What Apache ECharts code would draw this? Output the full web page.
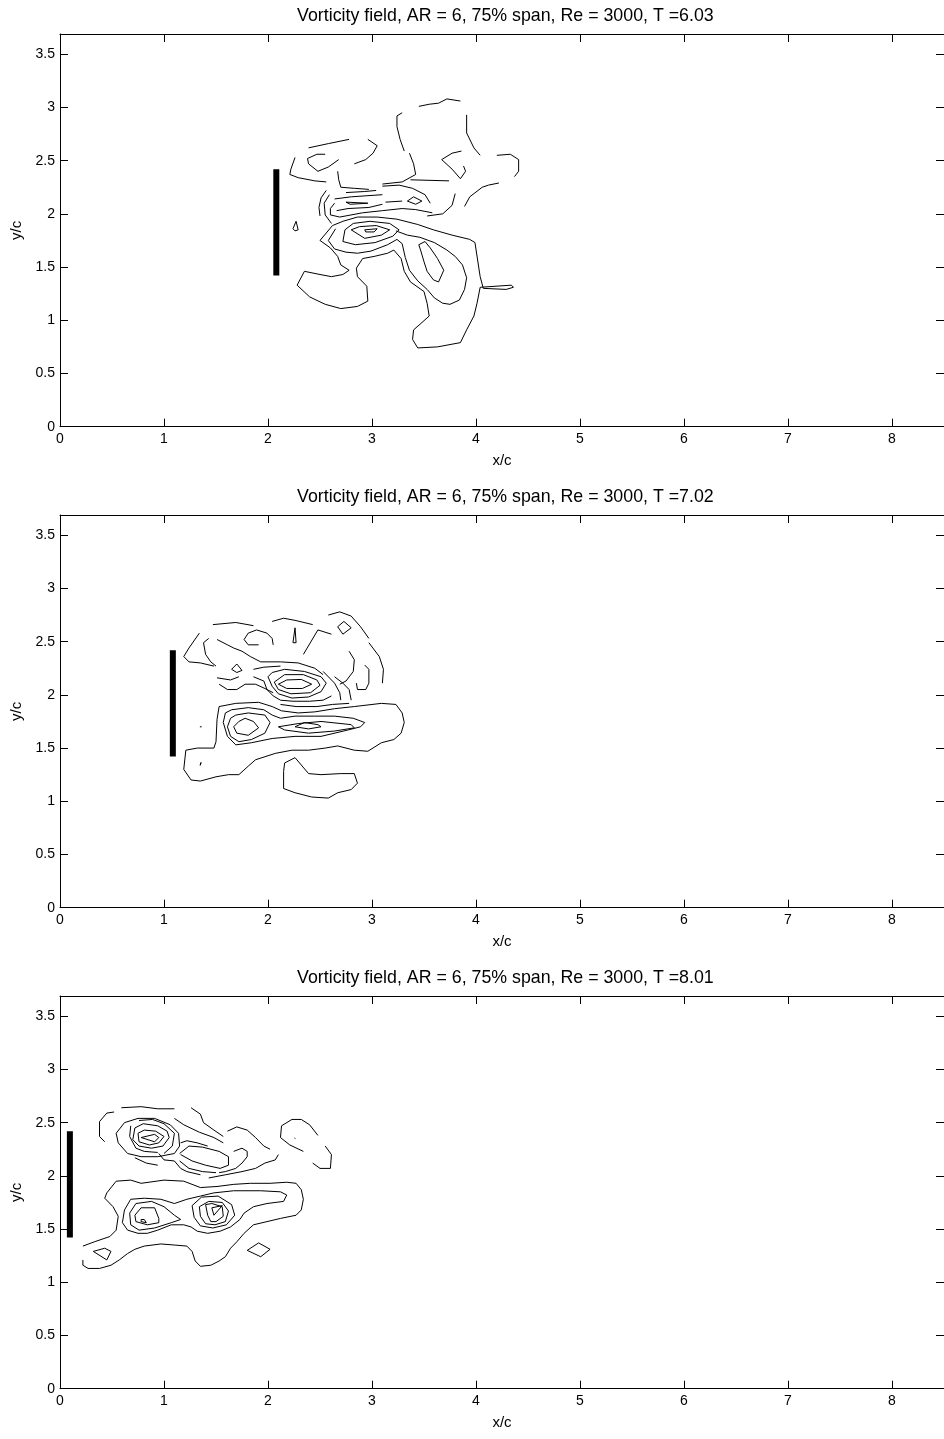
<!DOCTYPE html>
<html>
<head>
<meta charset="utf-8">
<script src="https://cdn.jsdelivr.net/npm/echarts@6/dist/echarts.min.js"></script>
<style>
html,body{margin:0;padding:0;background:#fff;}
#chart{width:944px;height:1439px;}
</style>
</head>
<body>
<div id="chart"></div>
<script>
// ---------- data (chord units) ----------
const titles = [
  "Vorticity field, AR = 6, 75% span, Re = 3000, T =6.03",
  "Vorticity field, AR = 6, 75% span, Re = 3000, T =7.02",
  "Vorticity field, AR = 6, 75% span, Re = 3000, T =8.01"
];
const xTicks = [0,1,2,3,4,5,6,7,8];
const yTicks = [0,0.5,1,1.5,2,2.5,3,3.5];
const plateX = [2.08, 1.085, 0.095];
const plateY = [1.42, 2.42];

// panel 1 contour polylines (x/c, y/c)
const contours1 = [
  [[3.45,3.01],[3.55,3.03],[3.64,3.04],[3.72,3.08],[3.85,3.06]],
  [[3.29,2.95],[3.24,2.92],[3.24,2.82],[3.27,2.70],[3.31,2.59]],
  [[3.91,2.93],[3.91,2.76],[3.98,2.62],[4.04,2.55]],
  [[2.39,2.62],[2.58,2.66],[2.78,2.70]],
  [[2.96,2.70],[3.05,2.64],[3.01,2.57],[2.94,2.51],[2.83,2.47]],
  [[2.55,2.56],[2.47,2.56],[2.38,2.52],[2.39,2.47],[2.48,2.40],[2.58,2.44],[2.68,2.51]],
  [[2.26,2.53],[2.22,2.42],[2.21,2.37],[2.29,2.34],[2.45,2.31],[2.56,2.30]],
  [[2.67,2.40],[2.68,2.32],[2.70,2.25],[2.83,2.24],[2.97,2.23]],
  [[3.36,2.57],[3.40,2.47],[3.42,2.37],[3.29,2.30],[3.10,2.28]],
  [[3.37,2.32],[3.74,2.31]],
  [[3.88,2.45],[3.90,2.40],[3.85,2.33],[3.77,2.42],[3.67,2.51],[3.77,2.57],[3.86,2.59]],
  [[4.20,2.55],[4.33,2.56],[4.41,2.51],[4.41,2.40],[4.37,2.35]],
  [[3.89,2.07],[3.94,2.16],[4.06,2.25],[4.12,2.27],[4.22,2.29]],
  [[2.56,2.22],[2.51,2.15],[2.49,2.06],[2.50,1.98]],
  [[2.59,2.18],[2.54,2.10],[2.55,1.99],[2.61,1.91]],
  [[2.64,2.10],[2.60,2.05],[2.60,1.99],[2.69,1.97],[2.91,2.01],[3.10,2.03],[3.29,2.05],[3.42,2.04],[3.58,2.01]],
  [[2.75,2.20],[2.93,2.21],[3.04,2.22]],
  [[2.64,2.14],[2.80,2.16],[3.10,2.18]],
  [[2.75,2.11],[2.96,2.10],[2.79,2.09],[2.75,2.11]],
  [[2.66,2.03],[2.77,2.05],[2.97,2.06],[3.10,2.09]],
  [[3.10,2.26],[3.26,2.27],[3.39,2.24],[3.51,2.18],[3.56,2.10]],
  [[3.13,2.11],[3.29,2.12]],
  [[3.34,2.12],[3.40,2.16],[3.48,2.12],[3.42,2.09],[3.34,2.12]],
  [[3.53,1.98],[3.68,2.00],[3.77,2.08],[3.80,2.19]],
  [[2.27,1.93],[2.24,1.86],[2.26,1.84],[2.29,1.85],[2.27,1.93]],
  [[2.93,1.85],[3.05,1.86],[3.02,1.83],[2.94,1.83],[2.93,1.85]],
  [[2.80,1.85],[2.93,1.77],[3.09,1.80],[3.17,1.85],[3.04,1.89],[2.88,1.88],[2.80,1.85]],
  [[2.74,1.85],[2.72,1.74],[2.84,1.71],[3.03,1.73],[3.20,1.79],[3.26,1.85],[3.17,1.91],[2.98,1.93],[2.82,1.91],[2.74,1.85]],
  [[2.65,1.86],[2.58,1.75],[2.64,1.67],[2.75,1.64],[2.86,1.63],[2.99,1.65],[3.15,1.71],[3.24,1.76],[3.29,1.72],[3.32,1.59],[3.36,1.47],[3.44,1.37],[3.53,1.29],[3.60,1.21],[3.68,1.16],[3.75,1.15],[3.84,1.19],[3.89,1.29],[3.91,1.40],[3.87,1.52],[3.80,1.60],[3.72,1.66],[3.60,1.73],[3.46,1.78],[3.34,1.80],[3.23,1.84]],
  [[3.45,1.71],[3.51,1.74],[3.56,1.68],[3.63,1.58],[3.69,1.47],[3.64,1.36],[3.59,1.38],[3.53,1.46],[3.50,1.55],[3.47,1.65],[3.45,1.71]],
  [[2.62,1.89],[2.50,1.75],[2.60,1.68],[2.67,1.60],[2.70,1.52],[2.78,1.47],[2.72,1.43],[2.61,1.41],[2.50,1.43],[2.35,1.46],[2.28,1.33],[2.40,1.22],[2.55,1.15],[2.70,1.11],[2.86,1.13],[2.96,1.18],[2.95,1.32],[2.86,1.41],[2.85,1.49],[2.91,1.58],[3.02,1.60],[3.15,1.63],[3.21,1.66],[3.28,1.58],[3.31,1.46],[3.37,1.36],[3.50,1.27],[3.53,1.16],[3.55,1.04],[3.47,0.97],[3.40,0.91],[3.39,0.82],[3.44,0.74],[3.63,0.75],[3.85,0.79],[3.91,0.91],[3.98,1.04],[4.01,1.16],[4.04,1.31],[4.34,1.33],[4.36,1.31],[4.29,1.29],[4.07,1.30],[4.04,1.41],[3.99,1.73],[3.94,1.76],[3.77,1.80],[3.59,1.85],[3.44,1.90],[3.24,1.95],[3.05,1.97],[2.86,1.97],[2.72,1.93],[2.62,1.89]]
];

// panel 2 contour polylines
const contours2 = [
  [[2.58,2.75],[2.69,2.78],[2.80,2.74],[2.89,2.64],[2.97,2.53]],
  [[2.67,2.64],[2.73,2.69],[2.80,2.63],[2.72,2.57],[2.67,2.64]],
  [[2.04,2.69],[2.15,2.72],[2.26,2.70],[2.43,2.66]],
  [[1.47,2.66],[1.69,2.68],[1.86,2.65]],
  [[2.05,2.47],[2.04,2.53],[1.99,2.58],[1.89,2.61],[1.81,2.58],[1.77,2.52],[1.81,2.47],[1.91,2.47]],
  [[2.26,2.63],[2.24,2.49],[2.27,2.49],[2.26,2.63]],
  [[2.34,2.38],[2.48,2.61],[2.61,2.57]],
  [[2.97,2.49],[3.07,2.36],[3.11,2.24],[3.10,2.11]],
  [[2.78,2.41],[2.83,2.33],[2.82,2.22],[2.75,2.13],[2.69,2.10]],
  [[2.93,2.28],[2.97,2.24],[2.97,2.11],[2.94,2.05],[2.86,2.05],[2.85,2.11]],
  [[1.34,2.58],[1.24,2.44],[1.19,2.36],[1.24,2.31],[1.35,2.30],[1.48,2.27]],
  [[1.43,2.53],[1.38,2.49],[1.40,2.38],[1.45,2.31],[1.50,2.27]],
  [[1.51,2.52],[1.61,2.47],[1.67,2.44],[1.75,2.41],[1.83,2.36],[1.93,2.31],[2.02,2.31],[2.12,2.31],[2.29,2.30],[2.45,2.25],[2.53,2.19]],
  [[1.65,2.24],[1.70,2.29],[1.75,2.23],[1.70,2.21],[1.65,2.24]],
  [[1.51,2.16],[1.64,2.14],[1.72,2.17]],
  [[1.53,2.10],[1.61,2.05],[1.70,2.05],[1.78,2.10],[1.88,2.10],[1.97,2.06],[2.05,2.02]],
  [[1.86,2.24],[1.96,2.26],[2.12,2.27]],
  [[2.00,2.17],[2.04,2.21],[2.16,2.24],[2.35,2.22],[2.51,2.17],[2.56,2.11],[2.51,2.03],[2.39,1.98],[2.23,1.97],[2.10,2.01],[2.04,2.08],[2.00,2.17]],
  [[2.06,2.12],[2.16,2.19],[2.34,2.19],[2.47,2.14],[2.50,2.09],[2.41,2.02],[2.22,2.01],[2.10,2.05],[2.06,2.12]],
  [[2.10,2.10],[2.18,2.14],[2.32,2.145],[2.42,2.10],[2.33,2.06],[2.18,2.06],[2.10,2.10]],
  [[1.86,2.17],[1.96,2.13],[1.99,2.05],[2.05,1.99],[2.12,1.95],[2.24,1.94],[2.40,1.94],[2.53,1.95],[2.61,1.99]],
  [[2.12,1.91],[2.27,1.89],[2.47,1.89],[2.62,1.91],[2.78,1.92]],
  [[2.64,2.17],[2.72,2.11],[2.78,2.05],[2.80,1.95]],
  [[2.53,2.22],[2.64,2.11],[2.69,2.02],[2.70,1.95]],
  [[1.53,1.89],[1.69,1.92],[1.91,1.93],[2.04,1.89],[2.13,1.85],[2.29,1.83],[2.45,1.84],[2.64,1.87],[2.83,1.89],[3.09,1.92],[3.23,1.91],[3.29,1.83],[3.31,1.74],[3.28,1.64],[3.21,1.58],[3.09,1.55],[2.96,1.47],[2.83,1.48],[2.67,1.52],[2.55,1.50],[2.39,1.48],[2.23,1.48],[2.07,1.45],[1.88,1.39],[1.81,1.33],[1.72,1.25],[1.62,1.25],[1.50,1.23],[1.35,1.19],[1.26,1.20],[1.19,1.30],[1.21,1.48],[1.32,1.50],[1.48,1.50],[1.50,1.56],[1.51,1.77],[1.53,1.89]],
  [[1.59,1.83],[1.57,1.74],[1.61,1.61],[1.69,1.53],[1.84,1.55],[2.04,1.59],[2.26,1.61],[2.51,1.61],[2.77,1.67],[2.89,1.70],[2.93,1.74],[2.82,1.78],[2.64,1.80],[2.45,1.80],[2.26,1.80],[2.12,1.78],[2.04,1.81],[1.96,1.86],[1.81,1.88],[1.65,1.86],[1.59,1.83]],
  [[1.64,1.78],[1.61,1.70],[1.64,1.61],[1.72,1.56],[1.84,1.58],[1.97,1.64],[2.02,1.74],[1.97,1.81],[1.81,1.83],[1.69,1.81],[1.64,1.78]],
  [[1.72,1.75],[1.67,1.70],[1.70,1.64],[1.81,1.62],[1.91,1.69],[1.86,1.75],[1.78,1.78],[1.72,1.75]],
  [[2.10,1.70],[2.29,1.73],[2.51,1.75],[2.80,1.72],[2.83,1.69],[2.64,1.66],[2.39,1.64],[2.16,1.67],[2.10,1.70]],
  [[2.26,1.70],[2.35,1.74],[2.48,1.72],[2.51,1.70],[2.39,1.68],[2.26,1.70]],
  [[1.345,1.70],[1.355,1.708],[1.362,1.70],[1.352,1.694],[1.345,1.70]],
  [[1.356,1.365],[1.348,1.338],[1.364,1.338],[1.356,1.365]],
  [[2.16,1.36],[2.26,1.41],[2.39,1.26],[2.51,1.25],[2.70,1.26],[2.83,1.26],[2.86,1.17],[2.80,1.11],[2.67,1.08],[2.58,1.03],[2.42,1.04],[2.26,1.08],[2.15,1.12],[2.15,1.28],[2.16,1.36]]
];

// panel 3 contour polylines
const contours3 = [
  [[0.52,2.60],[0.45,2.59],[0.38,2.51],[0.38,2.37],[0.43,2.32]],
  [[0.59,2.64],[0.78,2.65],[0.94,2.63],[1.10,2.63]],
  [[1.26,2.64],[1.35,2.58],[1.38,2.50],[1.48,2.43],[1.57,2.37]],
  [[1.61,2.42],[1.70,2.46],[1.80,2.43],[1.88,2.36],[1.96,2.28],[2.02,2.25]],
  [[2.48,2.38],[2.40,2.48],[2.32,2.53],[2.23,2.53],[2.13,2.47],[2.12,2.36],[2.21,2.29],[2.34,2.23]],
  [[2.55,2.28],[2.61,2.20],[2.60,2.07],[2.50,2.07],[2.43,2.12]],
  [[2.255,2.355],[2.263,2.359],[2.264,2.350],[2.255,2.355]],
  [[0.78,2.36],[0.91,2.39],[0.95,2.36],[0.91,2.32],[0.78,2.36]],
  [[0.75,2.40],[0.81,2.43],[0.92,2.42],[1.00,2.37],[0.95,2.31],[0.86,2.29],[0.76,2.32],[0.75,2.40]],
  [[0.72,2.45],[0.80,2.49],[0.94,2.47],[1.03,2.42],[1.05,2.36],[0.99,2.28],[0.88,2.26],[0.76,2.28],[0.70,2.34],[0.72,2.45]],
  [[0.76,2.52],[0.89,2.53],[1.00,2.49],[1.10,2.40],[1.08,2.28],[1.00,2.21]],
  [[0.68,2.47],[0.67,2.37],[0.73,2.26],[0.81,2.23],[0.94,2.22]],
  [[0.62,2.50],[0.54,2.40],[0.56,2.31],[0.65,2.21],[0.78,2.18],[0.94,2.18],[1.10,2.21],[1.15,2.28],[1.14,2.40],[1.06,2.48],[0.91,2.54],[0.75,2.54],[0.62,2.50]],
  [[1.10,2.54],[1.19,2.48],[1.34,2.41],[1.48,2.36],[1.57,2.31]],
  [[1.15,2.21],[1.24,2.28],[1.37,2.27],[1.53,2.23],[1.62,2.18],[1.62,2.10],[1.54,2.07],[1.40,2.10],[1.27,2.14],[1.16,2.20]],
  [[1.16,2.31],[1.22,2.33],[1.32,2.31],[1.42,2.28]],
  [[1.15,2.14],[1.24,2.07],[1.37,2.04],[1.50,2.03]],
  [[0.95,2.21],[1.00,2.15],[1.10,2.14],[1.16,2.07],[1.22,2.04],[1.35,2.01]],
  [[0.72,2.17],[0.83,2.12],[0.94,2.10]],
  [[1.67,2.23],[1.75,2.26],[1.80,2.23],[1.80,2.18],[1.75,2.12],[1.69,2.07],[1.59,2.04],[1.53,2.03]],
  [[1.43,1.98],[1.59,2.01],[1.75,2.04],[1.88,2.07],[1.97,2.12],[2.07,2.15],[2.10,2.20]],
  [[0.22,1.34],[0.33,1.38],[0.48,1.43],[0.54,1.49],[0.56,1.62],[0.51,1.71],[0.43,1.79],[0.45,1.84],[0.54,1.95],[0.68,1.96],[0.78,1.93],[1.00,1.96],[1.19,1.95],[1.35,1.89],[1.51,1.90],[1.67,1.92],[1.83,1.93],[2.02,1.93],[2.18,1.94],[2.27,1.93],[2.32,1.87],[2.34,1.78],[2.32,1.68],[2.27,1.63],[2.12,1.60],[1.99,1.57],[1.86,1.54],[1.77,1.46],[1.70,1.38],[1.64,1.32],[1.59,1.24],[1.53,1.20],[1.45,1.16],[1.35,1.15],[1.30,1.20],[1.27,1.29],[1.22,1.34],[1.10,1.35],[0.97,1.36],[0.81,1.34],[0.72,1.31],[0.65,1.27],[0.57,1.21],[0.49,1.16],[0.38,1.13],[0.27,1.13],[0.22,1.16],[0.22,1.21]],
  [[1.67,1.86],[1.93,1.86],[2.12,1.85],[2.18,1.82],[2.15,1.76],[1.99,1.74],[1.86,1.71],[1.77,1.65],[1.73,1.59],[1.64,1.52],[1.54,1.48],[1.42,1.46],[1.32,1.48],[1.26,1.52],[1.19,1.54],[1.07,1.54],[0.94,1.49],[0.84,1.46],[0.75,1.46],[0.65,1.49],[0.60,1.56],[0.62,1.68],[0.68,1.78],[0.81,1.79],[0.97,1.78],[1.10,1.74],[1.22,1.78],[1.35,1.81],[1.48,1.84],[1.67,1.86]],
  [[0.67,1.65],[0.73,1.74],[0.88,1.76],[1.00,1.71],[1.10,1.63],[1.16,1.59],[1.07,1.56],[0.91,1.51],[0.76,1.49],[0.68,1.54],[0.67,1.65]],
  [[0.72,1.63],[0.78,1.70],[0.91,1.70],[0.95,1.60],[0.95,1.56],[0.84,1.54],[0.73,1.57],[0.72,1.63]],
  [[0.78,1.59],[0.81,1.59],[0.83,1.56],[0.78,1.57],[0.78,1.59]],
  [[1.27,1.72],[1.36,1.80],[1.52,1.81],[1.65,1.73],[1.68,1.63],[1.60,1.54],[1.47,1.51],[1.35,1.53],[1.29,1.61],[1.27,1.72]],
  [[1.34,1.71],[1.43,1.76],[1.56,1.75],[1.62,1.67],[1.59,1.57],[1.49,1.54],[1.40,1.55],[1.35,1.62],[1.34,1.71]],
  [[1.40,1.73],[1.46,1.74],[1.56,1.71],[1.57,1.62],[1.50,1.57],[1.45,1.57],[1.42,1.63],[1.40,1.73]],
  [[1.46,1.70],[1.56,1.72],[1.48,1.63],[1.46,1.70]],
  [[0.32,1.29],[0.43,1.32],[0.49,1.29],[0.45,1.21],[0.32,1.29]],
  [[1.80,1.30],[1.91,1.37],[2.02,1.31],[1.93,1.24],[1.80,1.30]]
];
const allContours = [contours1, contours2, contours3];

// ---------- layout ----------
const FONT = "'Liberation Sans', Arial, Helvetica, sans-serif";
const PANEL_STEP = 481;
const GRID_TOP = 34;
const GRID_H = 392.7;
const GRID_LEFT = 60;
const GRID_W = 890.8;
const X_MAX = 8.5;
const Y_MAX = 3.69;

const chart = echarts.init(document.getElementById('chart'), null, {renderer: 'canvas', width: 944, height: 1439});

const grids = [], xAxes = [], yAxes = [], series = [], graphics = [];
for (let k = 0; k < 3; k++) {
  const top = GRID_TOP + k * PANEL_STEP;
  grids.push({left: GRID_LEFT, top: top, width: GRID_W, height: GRID_H, containLabel: false});
  const baseAxisLine = {show: true, onZero: false, lineStyle: {color: '#000', width: 1}};
  const tick = {show: true, inside: true, length: 8, lineStyle: {color: '#000', width: 1}};
  xAxes.push({
    type: 'value', gridIndex: k, position: 'bottom', min: 0, max: X_MAX, interval: 1,
    axisLine: baseAxisLine, axisTick: tick, splitLine: {show: false},
    axisLabel: {show: true, color: '#000', fontSize: 14, fontFamily: FONT, margin: 5, showMaxLabel: false,
      formatter: v => (xTicks.indexOf(v) >= 0 ? String(v) : '')},
    name: 'x/c', nameLocation: 'middle', nameGap: 27,
    nameTextStyle: {color: '#000', fontSize: 15, fontFamily: FONT}
  });
  xAxes.push({
    type: 'value', gridIndex: k, position: 'top', min: 0, max: X_MAX, interval: 1,
    axisLine: baseAxisLine, axisTick: tick, splitLine: {show: false}, axisLabel: {show: false}
  });
  yAxes.push({
    type: 'value', gridIndex: k, position: 'left', min: 0, max: Y_MAX, interval: 0.5,
    axisLine: baseAxisLine, axisTick: tick, splitLine: {show: false},
    axisLabel: {show: true, color: '#000', fontSize: 14, fontFamily: FONT, margin: 5, showMaxLabel: false,
      formatter: v => (yTicks.indexOf(v) >= 0 ? String(v) : '')},
    name: 'y/c', nameLocation: 'middle', nameGap: 30, nameRotate: 90,
    nameTextStyle: {color: '#000', fontSize: 15, fontFamily: FONT}
  });
  yAxes.push({
    type: 'value', gridIndex: k, position: 'right', min: 0, max: Y_MAX, interval: 0.5,
    axisLine: baseAxisLine, axisTick: tick, splitLine: {show: false}, axisLabel: {show: false}
  });

  allContours[k].forEach(function (pts) {
    series.push({
      type: 'line', xAxisIndex: 2 * k, yAxisIndex: 2 * k, data: pts,
      showSymbol: false, symbol: 'none', silent: true, animation: false,
      lineStyle: {color: '#000', width: 1}
    });
  });
  series.push({
    type: 'line', xAxisIndex: 2 * k, yAxisIndex: 2 * k,
    data: [[plateX[k], plateY[0]], [plateX[k], plateY[1]]],
    showSymbol: false, symbol: 'none', silent: true, animation: false,
    lineStyle: {color: '#000', width: 6, cap: 'butt'}
  });

  graphics.push({
    type: 'text', x: GRID_LEFT + GRID_W / 2, y: top - 18, silent: true,
    style: {text: titles[k], fill: '#000', font: '17.8px ' + FONT,
      textAlign: 'center', textVerticalAlign: 'middle', align: 'center', verticalAlign: 'middle'}
  });
}

chart.setOption({
  backgroundColor: '#fff',
  animation: false,
  grid: grids,
  xAxis: xAxes,
  yAxis: yAxes,
  series: series,
  graphic: graphics
});
</script>
</body>
</html>
